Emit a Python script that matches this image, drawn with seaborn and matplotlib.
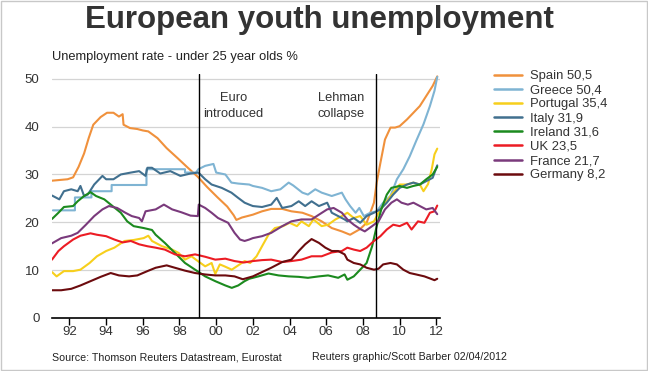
import matplotlib
matplotlib.use("Agg")

import pandas as pd
import seaborn as sns
import matplotlib.pyplot as plt
from matplotlib.patches import Rectangle


# =========================
# 1. Data (decimal years, % unemployed under 25)
# =========================

countries = ["Spain", "Greece", "Portugal", "Italy", "Ireland", "UK", "France", "Germany"]
latest = ["50,5", "50,4", "35,4", "31,9", "31,6", "23,5", "21,7", "8,2"]
colors = ["#f0913c", "#7fb4d3", "#f7cf1c", "#41708f", "#1b8a1e", "#ec1c24", "#7a3a7c", "#6c0b0e"]

spain_x = [1991.05, 1991.9, 1992.2, 1992.5, 1992.8, 1993.05, 1993.3, 1993.7, 1994.05, 1994.4,
           1994.7, 1994.9, 1994.95, 1995.3, 1995.7, 1996.0, 1996.3, 1996.8, 1997.3, 1997.9,
           1998.4, 1999.0, 1999.5, 2000.05, 2000.6, 2000.95, 2001.1, 2001.4, 2002.0, 2002.5,
           2003.0, 2003.6, 2004.1, 2004.7, 2005.2, 2005.75, 2006.3, 2006.85, 2007.3, 2007.85,
           2008.2, 2008.6, 2008.75, 2008.95, 2009.2, 2009.5, 2009.75, 2010.0, 2010.4, 2010.75,
           2011.1, 2011.45, 2011.8, 2012.05]
spain_y = [28.7, 29.0, 29.4, 31.6, 34.4, 37.6, 40.4, 42.0, 42.9, 42.9,
           42.1, 42.6, 40.4, 39.7, 39.5, 39.2, 39.0, 37.6, 35.5, 33.4,
           31.6, 29.5, 27.4, 25.3, 23.3, 21.5, 20.5, 21.0, 21.6, 22.3,
           22.8, 22.8, 22.3, 22.0, 21.3, 20.2, 18.8, 18.1, 17.4, 18.6,
           19.9, 24.1, 28.3, 32.4, 37.3, 39.8, 39.8, 40.1, 41.5, 42.9,
           44.3, 46.4, 48.5, 50.5]

greece_x = [1991.1, 1992.3, 1992.3, 1993.2, 1993.2, 1994.3, 1994.3, 1996.2, 1996.2, 1998.3,
            1998.3, 1998.9, 1999.03, 1999.4, 1999.85, 2000.0, 2000.5, 2000.83, 2001.2, 2001.8,
            2002.0, 2002.5, 2003.0, 2003.5, 2003.95, 2004.2, 2004.7, 2005.0, 2005.4, 2005.75,
            2006.3, 2006.85, 2007.05, 2007.3, 2007.6, 2007.8, 2008.05, 2008.4, 2008.75, 2009.1,
            2009.5, 2009.85, 2010.2, 2010.55, 2010.9, 2011.3, 2011.65, 2011.9, 2012.05]
greece_y = [22.5, 22.5, 25.2, 25.2, 26.5, 26.5, 27.8, 27.8, 31.1, 31.1,
            30.4, 30.4, 31.1, 31.8, 32.2, 30.4, 30.0, 28.3, 28.1, 27.9,
            27.6, 27.2, 26.5, 26.9, 28.3, 27.7, 26.2, 25.8, 26.9, 26.2,
            25.5, 26.2, 24.8, 23.4, 22.0, 23.0, 21.3, 22.0, 22.3, 24.1,
            25.5, 29.0, 31.1, 33.8, 37.0, 40.5, 44.3, 47.5, 50.4]

portugal_x = [1991.05, 1991.3, 1991.7, 1992.2, 1992.6, 1993.1, 1993.5, 1994.0, 1994.45, 1995.0,
              1995.5, 1996.05, 1996.3, 1996.5, 1997.05, 1997.6, 1997.95, 1998.3, 1998.65, 1999.0,
              1999.4, 1999.75, 1999.95, 2000.2, 2000.45, 2000.85, 2001.2, 2001.55, 2001.85, 2002.2,
              2002.5, 2002.85, 2003.2, 2003.65, 2004.0, 2004.4, 2004.65, 2005.05, 2005.3, 2005.75,
              2006.1, 2006.5, 2006.85, 2007.15, 2007.5, 2007.85, 2008.2, 2008.6, 2008.95, 2009.3,
              2009.65, 2010.0, 2010.4, 2010.75, 2011.1, 2011.3, 2011.55, 2011.75, 2011.9, 2012.05]
portugal_y = [9.6, 8.7, 9.8, 9.8, 10.1, 11.5, 12.9, 14.0, 14.7, 16.1,
              16.3, 16.7, 17.2, 16.1, 15.0, 14.3, 13.6, 12.2, 12.9, 11.9,
              10.8, 11.5, 9.2, 11.2, 10.8, 10.1, 11.0, 11.9, 11.5, 12.9,
              15.0, 17.4, 18.8, 19.2, 19.9, 19.2, 20.2, 19.2, 20.6, 19.2,
              19.5, 20.6, 21.3, 22.0, 20.9, 21.3, 19.5, 20.2, 22.7, 24.4,
              26.2, 27.9, 27.9, 28.3, 27.9, 26.5, 28.0, 31.1, 34.2, 35.4]

italy_x = [1991.05, 1991.45, 1991.7, 1992.1, 1992.45, 1992.6, 1992.8, 1993.0, 1993.35, 1993.8,
           1994.0, 1994.4, 1994.8, 1995.35, 1995.8, 1996.15, 1996.25, 1996.5, 1996.95, 1997.5,
           1998.05, 1998.6, 1999.03, 1999.4, 1999.75, 2000.3, 2000.83, 2001.2, 2001.55, 2001.8,
           2002.0, 2002.5, 2003.0, 2003.3, 2003.6, 2004.1, 2004.5, 2004.85, 2005.2, 2005.6,
           2006.05, 2006.3, 2006.65, 2007.0, 2007.15, 2007.5, 2007.85, 2008.2, 2008.6, 2008.95,
           2009.3, 2009.65, 2010.0, 2010.4, 2010.75, 2011.1, 2011.45, 2011.8, 2012.05]
italy_y = [25.6, 24.8, 26.5, 26.9, 26.5, 27.6, 25.5, 25.8, 27.9, 29.7,
           29.0, 29.0, 30.0, 30.4, 30.7, 29.7, 31.4, 31.4, 30.2, 30.7,
           29.7, 30.2, 30.4, 29.0, 27.9, 27.2, 26.2, 25.1, 24.1, 23.7,
           23.4, 23.2, 23.7, 25.1, 23.0, 23.4, 24.4, 23.4, 24.4, 23.4,
           24.1, 22.0, 21.3, 20.6, 20.2, 20.9, 19.9, 21.3, 22.0, 22.7,
           24.1, 25.8, 27.2, 27.9, 28.3, 27.9, 28.6, 29.3, 31.9]

ireland_x = [1991.05, 1991.4, 1991.7, 1992.2, 1992.45, 1992.8, 1993.15, 1993.45, 1993.9, 1994.35,
             1994.8, 1995.15, 1995.5, 1996.05, 1996.5, 1996.7, 1997.2, 1997.75, 1998.3, 1998.85,
             1999.4, 1999.95, 2000.5, 2000.85, 2001.2, 2001.55, 2001.8, 2002.3, 2002.85, 2003.4,
             2003.95, 2004.5, 2005.0, 2005.6, 2006.1, 2006.65, 2007.0, 2007.15, 2007.5, 2007.85,
             2008.2, 2008.5, 2008.75, 2009.0, 2009.3, 2009.55, 2010.0, 2010.4, 2010.75, 2011.1,
             2011.45, 2011.8, 2012.05]
ireland_y = [20.7, 22.0, 23.2, 23.4, 24.4, 25.5, 26.3, 25.5, 24.8, 23.4,
             22.0, 20.2, 19.2, 18.8, 18.4, 17.4, 15.7, 13.6, 11.5, 10.1,
             8.7, 7.7, 6.8, 6.3, 6.8, 7.7, 8.2, 8.7, 9.3, 8.9,
             8.7, 8.6, 8.4, 8.7, 8.9, 8.4, 9.1, 8.0, 8.7, 10.1,
             11.5, 15.0, 19.2, 22.7, 25.8, 27.2, 27.6, 27.2, 27.6, 27.9,
             29.0, 30.0, 31.6]

uk_x = [1991.05, 1991.4, 1991.7, 1992.2, 1992.6, 1993.15, 1993.5, 1994.0, 1994.45, 1994.9,
        1995.35, 1995.8, 1996.25, 1996.7, 1997.2, 1997.75, 1998.3, 1998.85, 1999.4, 1999.95,
        2000.5, 2001.0, 2001.5, 2002.0, 2002.5, 2003.0, 2003.6, 2004.1, 2004.65, 2005.2,
        2005.75, 2006.3, 2006.85, 2007.15, 2007.5, 2007.85, 2008.2, 2008.6, 2008.95, 2009.3,
        2009.65, 2010.0, 2010.4, 2010.65, 2011.0, 2011.35, 2011.65, 2011.9, 2012.05]
uk_y = [12.2, 14.0, 15.0, 16.4, 17.2, 17.7, 17.4, 17.1, 16.4, 15.8,
        16.1, 15.4, 15.0, 14.7, 14.3, 13.3, 12.9, 13.3, 12.8, 12.2,
        12.4, 11.9, 11.6, 11.9, 12.1, 12.2, 11.7, 11.9, 12.2, 12.9,
        12.9, 13.7, 14.0, 14.7, 14.3, 14.0, 14.7, 16.1, 17.1, 18.5,
        19.5, 19.2, 19.9, 18.5, 20.2, 19.9, 22.0, 22.3, 23.5]

france_x = [1991.05, 1991.55, 1992.1, 1992.45, 1992.9, 1993.35, 1993.8, 1994.15, 1994.6, 1995.05,
            1995.4, 1995.8, 1995.95, 1996.15, 1996.7, 1997.15, 1997.6, 1998.1, 1998.6, 1999.0,
            1999.05, 1999.4, 1999.75, 2000.1, 2000.65, 2001.0, 2001.3, 2001.55, 2001.8, 2002.0,
            2002.5, 2003.0, 2003.6, 2004.1, 2004.65, 2005.2, 2005.6, 2006.05, 2006.4, 2006.85,
            2007.15, 2007.5, 2007.85, 2008.1, 2008.5, 2008.85, 2009.2, 2009.55, 2009.85, 2010.1,
            2010.45, 2010.75, 2011.1, 2011.45, 2011.8, 2012.05]
france_y = [15.6, 16.7, 17.2, 17.8, 19.5, 21.3, 22.7, 23.4, 23.0, 22.0,
            21.3, 20.9, 20.2, 22.3, 22.7, 23.7, 22.7, 22.1, 21.4, 21.3,
            23.7, 23.0, 22.0, 20.9, 19.9, 17.8, 16.4, 16.1, 16.4, 16.7,
            17.1, 17.8, 19.2, 20.2, 20.6, 20.6, 21.6, 22.7, 23.0, 22.0,
            20.6, 19.5, 18.6, 18.1, 19.2, 20.2, 22.7, 24.1, 24.8, 24.1,
            23.7, 24.1, 23.4, 22.7, 23.0, 21.7]

germany_x = [1991.05, 1991.55, 1992.1, 1992.6, 1993.15, 1993.7, 1994.25, 1994.7, 1995.25, 1995.7,
             1996.25, 1996.7, 1997.3, 1997.75, 1998.3, 1998.85, 1999.4, 1999.95, 2000.5, 2001.0,
             2001.45, 2002.0, 2002.5, 2003.0, 2003.6, 2004.1, 2004.5, 2004.85, 2005.2, 2005.6,
             2005.95, 2006.3, 2006.65, 2007.0, 2007.15, 2007.5, 2007.85, 2008.2, 2008.6, 2008.85,
             2009.1, 2009.5, 2009.85, 2010.2, 2010.55, 2010.9, 2011.35, 2011.7, 2011.9, 2012.05]
germany_y = [5.8, 5.8, 6.1, 6.8, 7.7, 8.6, 9.4, 8.9, 8.7, 8.9,
             9.8, 10.5, 11.0, 10.5, 9.9, 9.4, 9.1, 8.9, 8.9, 8.7,
             8.1, 8.7, 9.6, 10.5, 11.7, 12.2, 14.0, 15.4, 16.5, 15.7,
             14.7, 14.0, 14.0, 13.3, 12.2, 11.5, 11.2, 10.5, 10.1, 10.3,
             11.2, 11.5, 11.2, 10.1, 9.4, 9.1, 8.7, 8.2, 7.9, 8.2]

year_ticks = list(range(1992, 2013, 2))
events = [(1999.05, "Euro\nintroduced", 2000.95), (2008.71, "Lehman\ncollapse", 2006.8)]


# =========================
# 2. Long table for seaborn
# =========================

series_x = [spain_x, greece_x, portugal_x, italy_x, ireland_x, uk_x, france_x, germany_x]
series_y = [spain_y, greece_y, portugal_y, italy_y, ireland_y, uk_y, france_y, germany_y]

labels = [f"{c} {v}" for c, v in zip(countries, latest)]
frames = []
for lab, xs, ys in zip(labels, series_x, series_y):
    frames.append(pd.DataFrame({"year": xs, "rate": ys, "country": lab}))
df = pd.concat(frames, ignore_index=True)

palette = dict(zip(labels, colors))


# =========================
# 3. Plot
# =========================

sns.set_theme(style="white")
plt.rcParams["font.family"] = ["Liberation Sans", "DejaVu Sans"]

fig = plt.figure(figsize=(6.48, 3.71), dpi=100)
ax = fig.add_axes([52 / 648, 1 - 318 / 371, 388 / 648, 244 / 371])

sns.lineplot(
    data=df,
    x="year",
    y="rate",
    hue="country",
    hue_order=labels,
    palette=palette,
    estimator=None,
    sort=False,
    linewidth=1.5,
    ax=ax
)

ax.set_xlim(1991.05, 2012.2)
ax.set_ylim(0, 51)
ax.set_yticks([0, 10, 20, 30, 40, 50])
ax.set_xticks(year_ticks)
ax.set_xticklabels([f"{y % 100:02d}" for y in year_ticks])
ax.set_xlabel("")
ax.set_ylabel("")

for y in [10, 20, 30, 40, 50]:
    ax.axhline(y, color="#d4d4d4", lw=0.9, zorder=0)

for x, txt, tx in events:
    ax.axvline(x, color="black", lw=1.0, zorder=5)
    ax.text(tx, 44.3, txt, ha="center", va="center", fontsize=9.3,
            color="#333333", linespacing=1.45)

for side in ["left", "right", "top"]:
    ax.spines[side].set_visible(False)
ax.spines["bottom"].set_color("black")
ax.spines["bottom"].set_linewidth(1.2)

ax.tick_params(axis="x", bottom=True, direction="out", length=5, width=1,
               color="black", labelsize=9.5, labelcolor="#333333", pad=1)
ax.tick_params(axis="y", left=False, length=0, labelsize=9.5, labelcolor="#333333", pad=9)

handles, labs = ax.get_legend_handles_labels()
for h in handles:
    h.set_linewidth(1.8)
ax.legend(
    handles, labs,
    loc="upper left",
    bbox_to_anchor=(494 / 648, 1 - 70 / 371),
    bbox_transform=fig.transFigure,
    frameon=False,
    fontsize=9.4,
    handlelength=2.15,
    handletextpad=0.62,
    labelspacing=0.155,
    borderpad=0,
    borderaxespad=0,
    labelcolor="#333333"
)

fig.text(319 / 648, 1 - 20 / 371, "European youth unemployment", ha="center", va="center",
         fontsize=22.5, fontweight="bold", color="#333333")
fig.text(52 / 648, 1 - 57 / 371, "Unemployment rate - under 25 year olds %", ha="left",
         va="center", fontsize=9.3, color="#222222")
fig.text(52 / 648, 1 - 357 / 371, "Source: Thomson Reuters Datastream, Eurostat", ha="left",
         va="center", fontsize=7.7, color="#222222")
fig.text(312 / 648, 1 - 357 / 371, "Reuters graphic/Scott Barber 02/04/2012", ha="left",
         va="center", fontsize=7.7, color="#222222")

fig.patches.append(Rectangle((0.001, 0.002), 0.997, 0.996, transform=fig.transFigure,
                             fill=False, edgecolor="#c8c8c8", lw=1))

fig.savefig("out.png", dpi=100)
